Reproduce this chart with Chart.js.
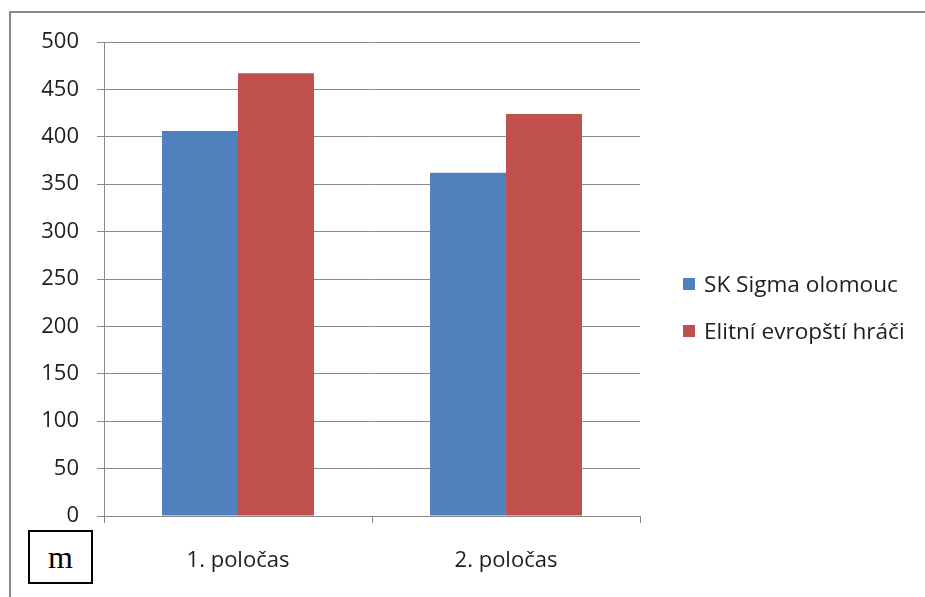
<!DOCTYPE html>
<html>
<head>
<meta charset="utf-8">
<title>Poločasy</title>
<script src="https://cdn.jsdelivr.net/npm/chart.js@4/dist/chart.umd.min.js"></script>
<style>
  html, body { margin: 0; padding: 0; background: #fff; }
  #wrap { position: relative; width: 925px; height: 597px; overflow: hidden; }
  #frame { position: absolute; left: 9px; top: 11px; width: 960px; height: 640px;
           border-left: 2px solid #8a8a8a; border-top: 2px solid #8a8a8a; }
  #chart { position: absolute; left: 0; top: 0; }
  #legend { position: absolute; left: 683px; top: 0; font-family: 'Open Sans', sans-serif;
            font-size: 22.6px; color: #1e1e1e; }
  #legend .item { position: absolute; left: 0; height: 30px; line-height: 30px; white-space: nowrap;
                  display: flex; align-items: center; }
  #legend .sw { width: 12px; height: 12px; margin-right: 9px; flex: none; }
  #mbox { position: absolute; left: 28px; top: 530px; width: 61px; height: 50px; border: 2px solid #000;
          font-family: 'Liberation Serif', serif; font-size: 32px; line-height: 50px; text-align: center;
          color: #000; background: #fff; }
</style>
</head>
<body>
<div id="wrap">
  <div id="frame"></div>
  <canvas id="chart" width="925" height="597"></canvas>
  <div id="legend"></div>
  <div id="mbox">m</div>
</div>
<script>
// Categories, series and axis ticks
const categories = ['1. poločas', '2. poločas'];
const seriesNames = ['SK Sigma olomouc', 'Elitní evropští hráči'];
const sigmaValues = [406, 362];
const eliteValues = [467, 424];
const seriesColors = ['#4F81BD', '#C0504D'];
const yTickValues = [0, 50, 100, 150, 200, 250, 300, 350, 400, 450, 500];

const textColor = '#1e1e1e';
const gridColor = '#8a8a8a';
const font = { family: "'Open Sans', sans-serif", size: 22 };

const chart = new Chart(document.getElementById('chart'), {
  type: 'bar',
  data: {
    labels: categories,
    datasets: [
      { label: seriesNames[0], data: sigmaValues, backgroundColor: seriesColors[0] },
      { label: seriesNames[1], data: eliteValues, backgroundColor: seriesColors[1] }
    ]
  },
  options: {
    responsive: false,
    animation: false,
    devicePixelRatio: 1,
    layout: { padding: { left: 0, top: 42, right: 285, bottom: 0 } },
    datasets: { bar: { categoryPercentage: 0.567, barPercentage: 1.0, borderWidth: 0 } },
    plugins: { legend: { display: false }, tooltip: { enabled: false } },
    scales: {
      y: {
        min: yTickValues[0],
        max: yTickValues[yTickValues.length - 1],
        afterBuildTicks: (axis) => { axis.ticks = yTickValues.map(v => ({ value: v })); },
        afterFit: (axis) => { axis.width = 104; },
        ticks: { color: textColor, font: font, padding: 18 },
        grid: { color: gridColor, lineWidth: 1, tickLength: 7, tickColor: gridColor },
        border: { color: gridColor, width: 1 }
      },
      x: {
        afterFit: (axis) => { axis.height = 81; },
        ticks: { color: textColor, font: font, padding: 25 },
        grid: { offset: true, drawOnChartArea: false, tickLength: 7, color: gridColor, tickColor: gridColor },
        border: { color: gridColor, width: 1 }
      }
    }
  }
});

// Legend built from the series names and colours
const legend = document.getElementById('legend');
const legendCenters = [283.5, 331];
seriesNames.forEach((name, i) => {
  const item = document.createElement('div');
  item.className = 'item';
  item.style.top = (legendCenters[i] - 15) + 'px';
  const sw = document.createElement('span');
  sw.className = 'sw';
  sw.style.background = seriesColors[i];
  const txt = document.createElement('span');
  txt.textContent = name;
  item.appendChild(sw);
  item.appendChild(txt);
  legend.appendChild(item);
});
</script>
</body>
</html>
